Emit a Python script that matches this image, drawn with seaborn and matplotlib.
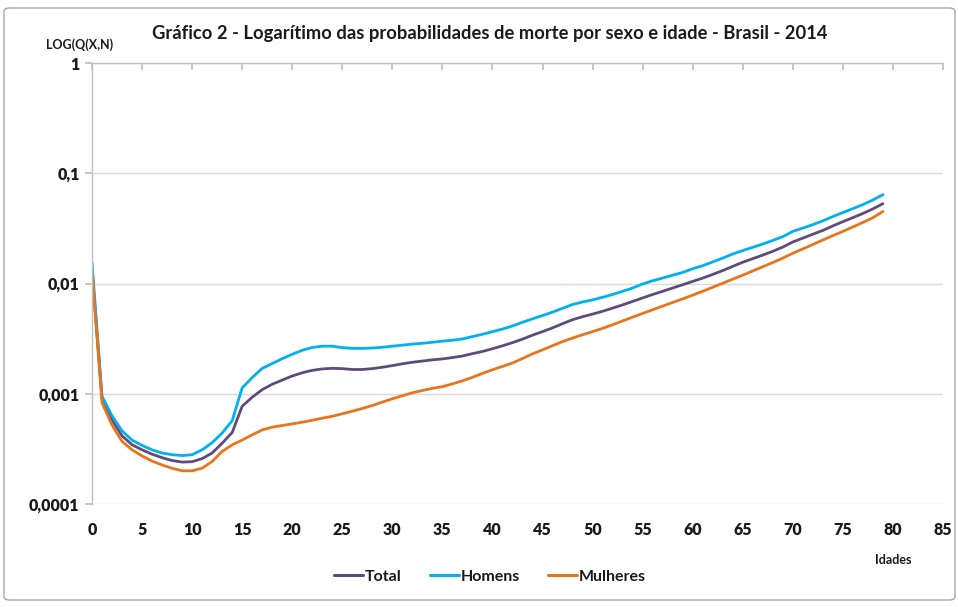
import numpy as np
import pandas as pd
import matplotlib
matplotlib.use("Agg")
import matplotlib.pyplot as plt
import seaborn as sns
from matplotlib.ticker import FixedLocator, FuncFormatter
from matplotlib.patches import FancyBboxPatch

ages = list(range(0, 80))

homens = [0.0155, 0.00095, 0.00063, 0.00046, 0.00038, 0.00034, 0.00031, 0.00029, 0.00028, 0.000275,
          0.00028, 0.00031, 0.00036, 0.00044, 0.00057, 0.00113, 0.00140, 0.00170, 0.00188, 0.00208,
          0.00228, 0.00248, 0.00263, 0.00270, 0.00270, 0.00262, 0.00258, 0.00258, 0.00260, 0.00264,
          0.00270, 0.00276, 0.00282, 0.00287, 0.00293, 0.00300, 0.00306, 0.00314, 0.00330, 0.00346,
          0.00366, 0.00386, 0.00412, 0.00445, 0.00478, 0.00512, 0.00550, 0.00596, 0.00645, 0.00680,
          0.00710, 0.00750, 0.00795, 0.00850, 0.00910, 0.00990, 0.0106, 0.0112, 0.0119, 0.0126,
          0.0136, 0.0145, 0.0157, 0.0170, 0.0185, 0.0199, 0.0213, 0.0228, 0.0246, 0.0266,
          0.0297, 0.0318, 0.0342, 0.0370, 0.0405, 0.0440, 0.0478, 0.0520, 0.0572, 0.0640]

total = [0.0133, 0.00090, 0.00058, 0.000415, 0.000345, 0.00031, 0.000283, 0.000263, 0.000248, 0.00024,
         0.000242, 0.000258, 0.00029, 0.000356, 0.000445, 0.00077, 0.00093, 0.00109, 0.00122, 0.00133,
         0.00145, 0.00155, 0.00163, 0.00168, 0.00170, 0.00169, 0.00166, 0.00166, 0.00169, 0.00174,
         0.00180, 0.00187, 0.00193, 0.00198, 0.00203, 0.00207, 0.00213, 0.00220, 0.00231, 0.00242,
         0.00256, 0.00272, 0.00291, 0.00313, 0.00340, 0.00366, 0.00396, 0.00432, 0.00470, 0.00500,
         0.00528, 0.00560, 0.00598, 0.00640, 0.00688, 0.00740, 0.00795, 0.00850, 0.00910, 0.00975,
         0.01045, 0.0112, 0.0121, 0.0131, 0.0143, 0.0156, 0.0168, 0.0181, 0.0196, 0.0214,
         0.0238, 0.0258, 0.0280, 0.0303, 0.0333, 0.0364, 0.0396, 0.0432, 0.0475, 0.0530]

mulheres = [0.0128, 0.00083, 0.00052, 0.00037, 0.00031, 0.000273, 0.000245, 0.000226, 0.000211, 0.000200,
            0.000200, 0.000211, 0.000243, 0.00030, 0.000344, 0.00038, 0.000424, 0.00047, 0.000498, 0.000515,
            0.000533, 0.000552, 0.000575, 0.000600, 0.000625, 0.000658, 0.000695, 0.000735, 0.000783, 0.00084,
            0.00090, 0.00096, 0.00102, 0.00107, 0.00112, 0.00116, 0.00123, 0.00131, 0.00141, 0.00153,
            0.00165, 0.00177, 0.00190, 0.00209, 0.00230, 0.00250, 0.00273, 0.00297, 0.00320, 0.00343,
            0.00366, 0.00392, 0.00423, 0.00458, 0.00495, 0.00535, 0.00578, 0.00624, 0.00673, 0.00725,
            0.00785, 0.00850, 0.00925, 0.01005, 0.01095, 0.0119, 0.0130, 0.0142, 0.0155, 0.0170,
            0.0188, 0.0206, 0.0226, 0.0248, 0.0272, 0.0297, 0.0326, 0.0358, 0.0395, 0.0450]

series_names = ["Total", "Homens", "Mulheres"]
series_colors = ["#604a7b", "#00b0f0", "#e8741c"]
x_ticks = list(range(0, 90, 5))
y_ticks = [0.0001, 0.001, 0.01, 0.1, 1]
y_tick_labels = ["0,0001", "0,001", "0,01", "0,1", "1"]

title = "Gráfico 2 - Logarítimo das probabilidades de morte por sexo e idade - Brasil - 2014"

df = pd.DataFrame({
    "Idade": ages * 3,
    "q": total + homens + mulheres,
    "Série": ["Total"] * len(ages) + ["Homens"] * len(ages) + ["Mulheres"] * len(ages),
})

sns.set_theme(style="white")
plt.rcParams["font.family"] = ["Lato", "DejaVu Sans"]

fig = plt.figure(figsize=(9.58, 6.07), dpi=100)
ax = fig.add_axes([92 / 958, 1 - 504 / 607, (943 - 92) / 958, (504 - 63) / 607])

sns.lineplot(data=df, x="Idade", y="q", hue="Série", hue_order=series_names,
             palette=dict(zip(series_names, series_colors)), linewidth=2.0, ax=ax, legend=False)

ax.set_yscale("log")
ax.set_ylim(0.0001, 1)
ax.set_xlim(0, 85)
ax.yaxis.set_major_locator(FixedLocator(y_ticks))
ax.yaxis.set_major_formatter(FuncFormatter(lambda v, p: dict(zip(y_ticks, y_tick_labels)).get(v, "")))
ax.yaxis.set_minor_locator(FixedLocator([]))
ax.xaxis.set_major_locator(FixedLocator(x_ticks))
ax.set_xlabel("")
ax.set_ylabel("")

ax.grid(axis="y", color="#d9d9d9", linewidth=1.0)
ax.grid(axis="x", visible=False)
for s in ["right", "bottom"]:
    ax.spines[s].set_visible(False)
ax.spines["left"].set_color("#bfbfbf")
ax.spines["top"].set_color("#bfbfbf")
ax.spines["left"].set_linewidth(1.0)
ax.spines["top"].set_linewidth(1.0)

ax.tick_params(axis="x", top=True, bottom=False, labeltop=False, labelbottom=True,
               direction="in", length=5, color="#bfbfbf", pad=13, labelsize=11.5)
ax.tick_params(axis="y", left=True, direction="out", length=5, color="#bfbfbf", pad=4, labelsize=11.5)
for lbl in ax.get_xticklabels() + ax.get_yticklabels():
    lbl.set_fontweight("heavy")
    lbl.set_color("#1a1a1a")

fig.text(490 / 958, 1 - 33 / 607, title, ha="center", va="center",
         fontsize=13.2, fontweight="bold", color="#1a1a1a")
fig.text(80 / 958, 1 - 45 / 607, "LOG(Q(X,N)", ha="center", va="center",
         fontsize=9, fontweight="bold", color="#1a1a1a")
fig.text(893 / 958, 1 - 560 / 607, "Idades", ha="center", va="center",
         fontsize=9, fontweight="bold", color="#1a1a1a")

handles = [plt.Line2D([], [], color=c, linewidth=2.2) for c in series_colors]
leg = fig.legend(handles, series_names, loc="center", bbox_to_anchor=(490 / 958, 1 - 577 / 607),
                 ncol=3, frameon=False, handlelength=1.8, handletextpad=0.1, columnspacing=1.8,
                 prop={"weight": "bold", "size": 11.5})
for t in leg.get_texts():
    t.set_color("#1a1a1a")

border = FancyBboxPatch((4 / 958, 7 / 607), 951 / 958, 592 / 607, boxstyle="round,pad=0,rounding_size=0.006",
                        transform=fig.transFigure, fill=False, edgecolor="#a6a6a6", linewidth=1.0)
fig.patches.append(border)

fig.savefig("out.png", dpi=100)
